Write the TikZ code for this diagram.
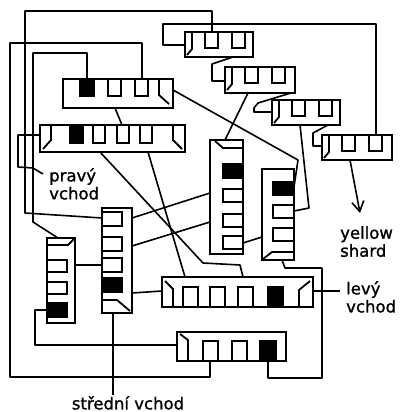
\documentclass[tikz,border=0pt]{standalone}
\usepackage{fontspec}
\setmainfont{DejaVu Sans}
\newfontfamily\lblfont[FakeBold=1.2]{DejaVu Sans}
\usetikzlibrary{calc,arrows.meta}

\begin{document}
\begin{tikzpicture}[x=1pt, y=-1pt,
  room/.style={draw, line width=2pt, inner sep=0pt, outer sep=0pt, anchor=north west, minimum width=#1},
  cellbox/.style={draw, line width=1.8pt},
  shut/.style={cellbox, fill=black},
  wire/.style={line width=1.6pt, line join=round},
  lbl/.style={font=\lblfont\fontsize{16.5}{18}\selectfont, align=left, inner sep=0pt}]
  \useasboundingbox (0,0) rectangle (400,412);
  % rooms
  \node[room=68pt, minimum height=25pt] (T1) at (185,32) {};
  \node[room=70pt, minimum height=26pt] (T2) at (225,67) {};
  \node[room=68pt, minimum height=25pt] (T3) at (272,100) {};
  \node[room=70pt, minimum height=25pt] (T4) at (322,135) {};
  \node[room=110pt, minimum height=29pt] (M1) at (63,79) {};
  \node[room=145pt, minimum height=27pt] (M2) at (40,125) {};
  \node[room=33pt, minimum height=114pt] (V1) at (210,140) {};
  \node[room=32pt, minimum height=91pt] (V2) at (262,169) {};
  \node[room=30pt, minimum height=105pt] (V3) at (102,208) {};
  \node[room=28pt, minimum height=85pt] (V4) at (47,238) {};
  \node[room=151pt, minimum height=30pt] (L) at (162,277) {};
  \node[room=109pt, minimum height=29pt] (B) at (177,332) {};
  % cells
  \foreach \t in {T1,T2,T3,T4} {
    \draw[cellbox] ($(\t.north west)+(7,0)$) -- ++(0,17) -- ++(-5,6);
    \foreach \d in {20,47} \draw[cellbox] ($(\t.north west)+(\d,0)$) rectangle ++(13,16);
  }
  \draw[shut] ($(M1.north west)+(17,0)$) rectangle ++(14,17);
  \foreach \d in {45,72} \draw[cellbox] ($(M1.north west)+(\d,0)$) rectangle ++(13,17);
  \draw[cellbox] ($(M1.north east)+(-14,0)$) -- ++(0,16) -- ++(10,9);
  \draw[cellbox] ($(M2.north west)+(11,0)$) -- ++(0,15) -- ++(-8,9);
  \draw[shut] ($(M2.north west)+(30,0)$) rectangle ++(13,18);
  \foreach \d in {53,77,100} \draw[cellbox] ($(M2.north west)+(\d,0)$) rectangle ++(12,18);
  \draw[cellbox] ($(M2.north east)+(-12,0)$) -- ++(0,15) -- ++(9,9);
  \draw[cellbox] ($(V1.north east)+(0,8)$) -- ++(-20,0) -- ++(-8,-7);
  \draw[shut] ($(V1.north east)+(-20,24)$) rectangle ++(20,14);
  \foreach \d in {49,74,96} \draw[cellbox] ($(V1.north east)+(-20,\d)$) rectangle ++(20,13);
  \draw[shut] ($(V2.north east)+(-21,13)$) rectangle ++(21,13);
  \foreach \d in {36,59} \draw[cellbox] ($(V2.north east)+(-21,\d)$) rectangle ++(21,13);
  \draw[cellbox] ($(V2.south east)+(0,-8)$) -- ++(-22,0) -- ++(-9,7);
  \foreach \d in {4,29,50} \draw[cellbox] ($(V3.north west)+(0,\d)$) rectangle ++(20,14);
  \draw[shut] ($(V3.north west)+(0,70)$) rectangle ++(20,14);
  \draw[cellbox] ($(V3.north west)+(0,92)$) -- ++(15,0) -- ++(13,11);
  \draw[cellbox] ($(V4.north west)+(0,7)$) -- ++(21,0) -- ++(6,-6);
  \foreach \d in {22,44} \draw[cellbox] ($(V4.north west)+(0,\d)$) rectangle ++(20,12);
  \draw[shut] ($(V4.north west)+(0,65)$) rectangle ++(20,14);
  \draw[cellbox] ($(L.south west)+(11,0)$) -- ++(0,-18) -- ++(-8,-8);
  \foreach \d in {21,48,76} \draw[cellbox] ($(L.south west)+(\d,0)$) rectangle ++(15,-20);
  \draw[shut] ($(L.south west)+(106,0)$) rectangle ++(15,-20);
  \draw[cellbox] ($(L.south east)+(-14,0)$) -- ++(0,-17) -- ++(11,-9);
  \draw[cellbox] ($(B.south west)+(11,0)$) -- ++(0,-21) -- ++(-8,-6);
  \foreach \d in {26,55} \draw[cellbox] ($(B.south west)+(\d,0)$) rectangle ++(15,-20);
  \draw[shut] ($(B.south west)+(83,0)$) rectangle ++(16,-20);
  % doors
  \coordinate (t1in) at (212,32);  \coordinate (t1tab) at (185,45); \coordinate (t1out) at (233,57);
  \coordinate (t2tab) at (225,81); \coordinate (t2out) at (248,93); \coordinate (t2r) at (291,93);
  \coordinate (t3tab) at (272,112); \coordinate (t3out) at (300,125); \coordinate (t3r) at (328,125);
  \coordinate (t4tab) at (322,146); \coordinate (t4in) at (376,135); \coordinate (t4out) at (350,160);
  \coordinate (m1f) at (87,79); \coordinate (m1c) at (142,79); \coordinate (m1r) at (173,90); \coordinate (m1b) at (115,108);
  \coordinate (m2t) at (122,125); \coordinate (m2l) at (40,135); \coordinate (m2a) at (100,152); \coordinate (m2b) at (148,152);
  \coordinate (v1in) at (225,140); \coordinate (v1a) at (210,193); \coordinate (v1b) at (210,222); \coordinate (v1r) at (243,243);
  \coordinate (v2f) at (294,187); \coordinate (v2r) at (294,211); \coordinate (v2l) at (262,237); \coordinate (v2b) at (282,260);
  \coordinate (v3l) at (102,218); \coordinate (v3m) at (102,265); \coordinate (v3a) at (132,218); \coordinate (v3b) at (132,246);
  \coordinate (v3c) at (132,293); \coordinate (v3d) at (113,313);
  \coordinate (v4in) at (58,238); \coordinate (v4r) at (75,265); \coordinate (v4f) at (47,310);
  \coordinate (la) at (243,277); \coordinate (lb) at (185,277); \coordinate (ll) at (162,291); \coordinate (lr) at (313,291);
  \coordinate (bl) at (177,345); \coordinate (bin) at (210,361); \coordinate (bf) at (268,361);
  \coordinate (shard) at (360,213); \coordinate (prav) at (43,174); \coordinate (lev) at (340,291); \coordinate (mid) at (113,395);
  % connectors
  \draw[wire] (t1in) -- (212,11) -- (25,11) -- (25,213) -- (v3l);
  \draw[wire] (m1c) -- (142,43) -- (10,43) -- (10,377) -- (210,377) -- (bin);
  \draw[wire] (m1f) -- (87,53) -- (33,53) -- (33,222) -- (v4in);
  \draw[wire] (t1tab) -- (163,45) -- (163,24) -- (376,24) -- (t4in);
  \draw[wire] (t1out) -- (212,64) -- (212,81) -- (t2tab);
  \draw[wire] (t2r) -- (258,103) -- (254,108) -- (254,112) -- (t3tab);
  \draw[wire] (t3r) -- (313,133) -- (313,146) -- (t4tab);
  \draw[wire] (t2out) -- (v1in);
  \draw[wire] (t3out) -- (309,208) -- (v2r);
  \draw[wire, -{Straight Barb[length=10pt, width=12pt]}] (t4out) -- (shard);
  \draw[wire] (m1r) -- (298,160) -- (v2f);
  \draw[wire] (m1b) -- (m2t);
  \draw[wire] (m2a) -- (203,263) -- (240,265) -- (la);
  \draw[wire] (m2b) -- (lb);
  \foreach \a/\b in {v3a/v1a, v3b/v1b, v3c/ll, v4r/v3m, v1r/v2l, v3d/mid, lr/lev} \draw[wire] (\a) -- (\b);
  \draw[wire] (v4f) -- (35,310) -- (35,345) -- (bl);
  \draw[wire] (v2b) -- (285,268) -- (322,268) -- (322,378) -- (268,378) -- (bf);
  \draw[wire] (m2l) -- (18,135) -- (18,167) -- (33,168) -- (prav);
  % labels
  \node[lbl, anchor=north west] (pravy) at (49,168) {pravý\\vchod};
  \node[lbl, anchor=north west] (yellow) at (340,226) {yellow\\shard};
  \node[lbl, anchor=north west] (levy) at (346,281) {levý\\vchod};
  \node[lbl, anchor=north] (stredni) at (128,396) {střední vchod};
\end{tikzpicture}
\end{document}
